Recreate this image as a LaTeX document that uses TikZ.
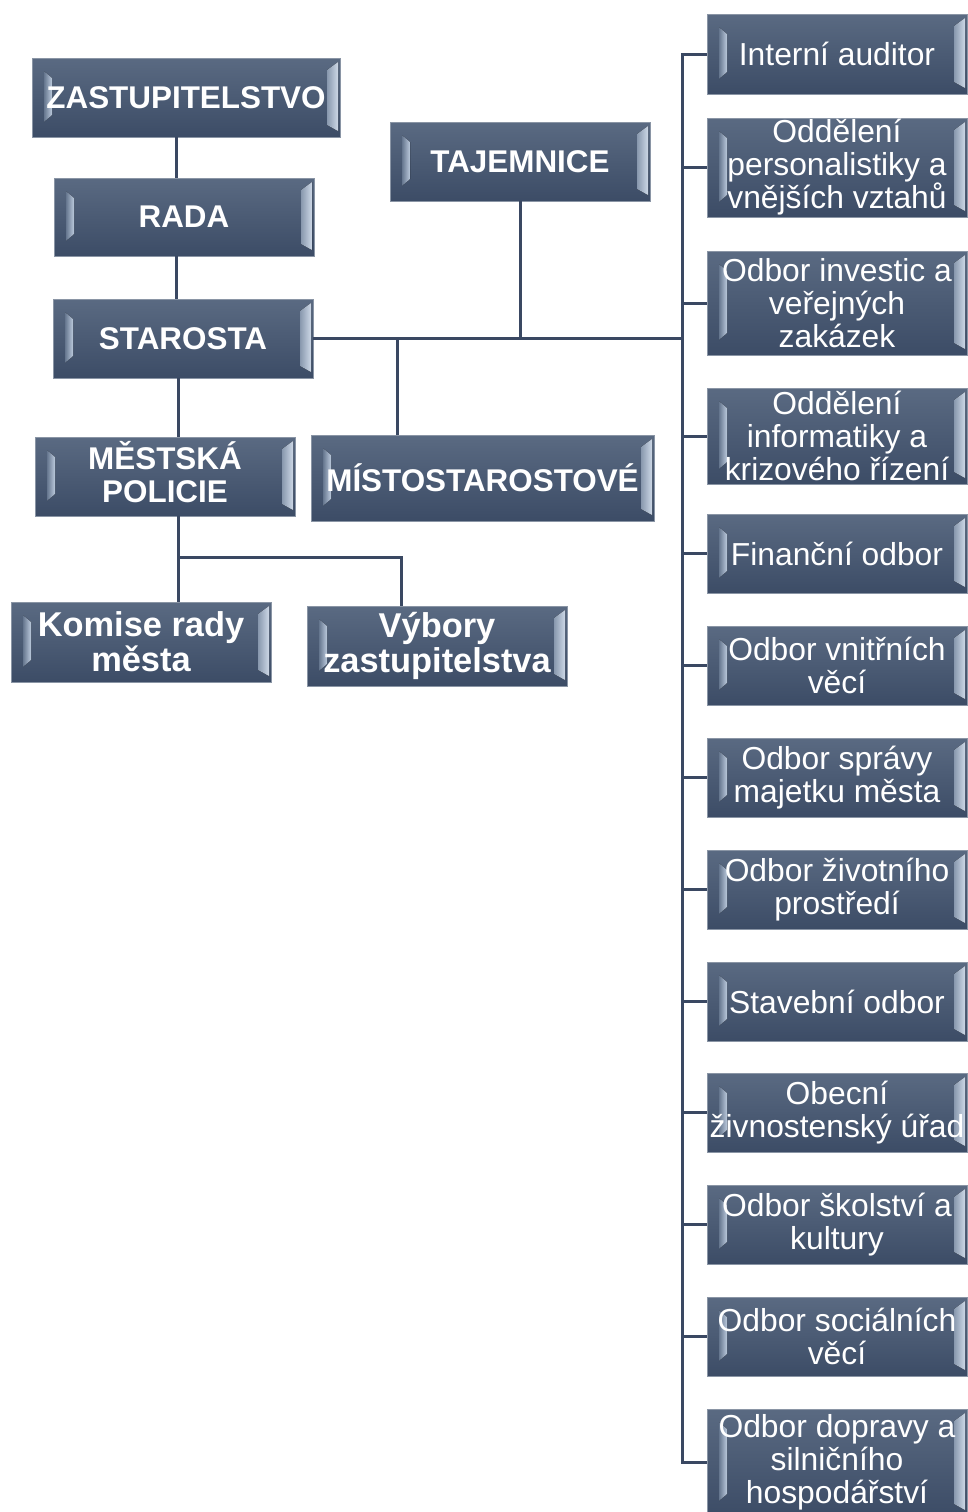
\documentclass[tikz,border=0pt]{standalone}
\usepackage{fontspec}
\setmainfont{Liberation Sans}
\usetikzlibrary{calc}

\definecolor{tilehi}{HTML}{5A6A82}
\definecolor{tilelo}{HTML}{3C4C66}
\definecolor{tileedge}{HTML}{8A95A5}
\definecolor{bevlight}{HTML}{BCCADD}
\definecolor{bevedge}{HTML}{CDD8E6}
\definecolor{bevdark}{HTML}{66778F}
\definecolor{wire}{HTML}{3A4862}

\tikzset{
  tile/.style={
    draw=tileedge, line width=0.4pt,
    top color=tilehi, bottom color=tilelo,
    text=white, align=center, inner sep=0pt,
    path picture={
      \path (path picture bounding box.north west) coordinate (pnw)
            (path picture bounding box.south east) coordinate (pse);
      \path (pnw |- pse) coordinate (psw) (pse |- pnw) coordinate (pne);
      % inset left bevel, bright towards the label
      \fill[left color=bevdark, right color=bevlight]
        ($(pnw)+(6pt,-6.5pt)$) -- ($(pnw)+(10pt,-10pt)$) -- ($(psw)+(10pt,11pt)$) -- ($(psw)+(6pt,7.5pt)$) -- cycle;
      % right bevel at the edge, bright towards the border
      \fill[left color=bevdark!60!bevlight, right color=bevedge]
        ($(pne)+(-6.5pt,-6pt)$) -- ($(pne)+(-1pt,-2pt)$) -- ($(pse)+(-1pt,3pt)$) -- ($(pse)+(-6.5pt,6pt)$) -- cycle;
    }},
  plainlabel/.style={font=\fontsize{15.9}{16.5}\selectfont},
  boldlabel/.style={font=\fontsize{15.7}{16.5}\selectfont\bfseries},
  biglabel/.style={font=\fontsize{17.2}{17.5}\selectfont\bfseries},
  wire/.style={draw=wire, line width=1.5pt}
}

% name, x0, y0, x1, y1, label style, text
\newcommand\tile[7]{%
  \node[tile,#6,minimum width={(#4-#2)*0.5pt},minimum height={(#5-#3)*0.5pt}]
    (#1) at ({(#2+#4)/2},{(#3+#5)/2}) {#7};}

\begin{document}
\begin{tikzpicture}[x=0.5pt,y=-0.5pt]
\useasboundingbox[fill=white] (0,0) rectangle (968,1512);

% left hierarchy
\tile{zast}{32}{58}{340}{137}{boldlabel}{ZASTUPITELSTVO}
\tile{rada}{54}{178}{314}{256}{boldlabel}{RADA}
\tile{starosta}{53}{299}{313}{378}{boldlabel}{STAROSTA}
\tile{policie}{35}{437}{295}{516}{boldlabel}{\raisebox{2pt}{\begin{tabular}{@{}c@{}}MĚSTSKÁ\\POLICIE\end{tabular}}}
\tile{misto}{311}{435}{654}{521}{boldlabel}{MÍSTOSTAROSTOVÉ}
\tile{tajemnice}{390}{122}{650}{201}{boldlabel}{TAJEMNICE}
\tile{komise}{11}{602}{271}{682}{biglabel}{Komise rady\\města}
\tile{vybory}{307}{606}{567}{686}{biglabel}{Výbory\\zastupitelstva}

% departments
\tile{r1}{707}{14}{967}{94}{plainlabel}{Interní auditor}
\tile{r2}{707}{118}{967}{217}{plainlabel}{Oddělení\\personalistiky a\\vnějších vztahů}
\tile{r3}{707}{251}{967}{355}{plainlabel}{Odbor investic a\\veřejných\\zakázek}
\tile{r4}{707}{388}{967}{484}{plainlabel}{Oddělení\\informatiky a\\krizového řízení}
\tile{r5}{707}{514}{967}{593}{plainlabel}{Finanční odbor}
\tile{r6}{707}{626}{967}{705}{plainlabel}{Odbor vnitřních\\věcí}
\tile{r7}{707}{738}{967}{817}{plainlabel}{Odbor správy\\majetku města}
\tile{r8}{707}{850}{967}{929}{plainlabel}{Odbor životního\\prostředí}
\tile{r9}{707}{962}{967}{1041}{plainlabel}{Stavební odbor}
\tile{r10}{707}{1073}{967}{1152}{plainlabel}{Obecní\\živnostenský úřad}
\tile{r11}{707}{1185}{967}{1264}{plainlabel}{Odbor školství a\\kultury}
\tile{r12}{707}{1297}{967}{1376}{plainlabel}{Odbor sociálních\\věcí}
\tile{r13}{707}{1409}{967}{1516}{plainlabel}{Odbor dopravy a\\silničního\\hospodářství}

% junction points
\coordinate (trunk) at (682,337);
\coordinate (mj) at (397,337);
\coordinate (j1) at (178,557);
\coordinate (j2) at (401,557);

% left spine
\draw[wire] ([xshift=-5pt]zast.south) -- ([xshift=-5pt]zast.south |- rada.north);
\draw[wire] ([xshift=-4pt]rada.south) -- ([xshift=-4pt]rada.south |- starosta.north);
\draw[wire] ([xshift=-2.5pt]starosta.south) -- ([xshift=-2.5pt]starosta.south |- policie.north);
\draw[wire] (j1 |- policie.south) -- (j1 |- komise.north);
\draw[wire] (j1) -- (j2) -- (j2 |- vybory.north);

% main horizontal and its drops
\draw[wire] (starosta.east) -- (trunk |- starosta.east);
\draw[wire] (tajemnice.south) -- (tajemnice.south |- starosta.east);
\draw[wire] (mj |- starosta.east) -- (mj |- misto.north);

% department trunk
\draw[wire] (r1.west) -- (trunk |- r1.west) -- (trunk |- r13.west) -- (r13.west);
\foreach \i in {2,...,12}
  \draw[wire] (trunk |- r\i.west) -- (r\i.west);
\end{tikzpicture}
\end{document}
